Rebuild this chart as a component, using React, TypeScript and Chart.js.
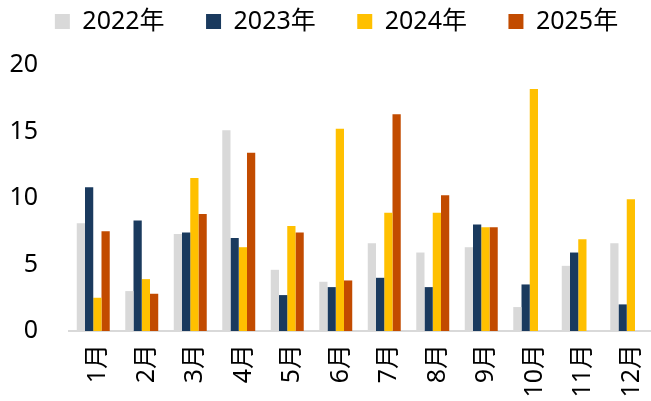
import React, { useEffect, useRef } from "react";
import { Chart, registerables } from "chart.js";

Chart.register(...registerables);

const months = ["1月", "2月", "3月", "4月", "5月", "6月", "7月", "8月", "9月", "10月", "11月", "12月"];
const seriesNames = ["2022年", "2023年", "2024年", "2025年"];
const v2022 = [8.1, 3.0, 7.3, 15.1, 4.6, 3.7, 6.6, 5.9, 6.3, 1.8, 4.9, 6.6];
const v2023 = [10.8, 8.3, 7.4, 7.0, 2.7, 3.3, 4.0, 3.3, 8.0, 3.5, 5.9, 2.0];
const v2024 = [2.5, 3.9, 11.5, 6.3, 7.9, 15.2, 8.9, 8.9, 7.8, 18.2, 6.9, 9.9];
const v2025 = [7.5, 2.8, 8.8, 13.4, 7.4, 3.8, 16.3, 10.2, 7.8, null, null, null];
const yTicks = [0, 5, 10, 15, 20];
const colors = ["#d9d9d9", "#1a3a5e", "#ffc000", "#c24b00"];

const FONT = "'Noto Sans', 'Noto Sans CJK SC', sans-serif";

export default function App() {
  const ref = useRef<HTMLCanvasElement>(null);
  useEffect(() => {
    const legendSize = {
      id: "legendSize",
      beforeInit(chart: any) {
        const orig = chart.legend.fit;
        chart.legend.fit = function () {
          orig.bind(chart.legend)();
          this.height = 65;
        };
      },
      afterLayout(chart: any) {
        chart.legend.left += 11;
        chart.legend.right += 11;
      },
    };
    const chart = new Chart(ref.current!, {
      type: "bar",
      data: {
        labels: months,
        datasets: [v2022, v2023, v2024, v2025].map((d, i) => ({
          label: seriesNames[i],
          data: d,
          backgroundColor: colors[i],
          borderWidth: 0,
          categoryPercentage: 0.68,
          barPercentage: 1.0,
        })),
      },
      options: {
        animation: false,
        responsive: false,
        layout: { padding: { left: 0, right: 0, top: 0, bottom: 0 } },
        plugins: {
          tooltip: { enabled: false },
          legend: {
            position: "top",
            align: "center",
            labels: {
              boxWidth: 15,
              boxHeight: 15,
              padding: 9,
              color: "#000",
              font: { family: FONT, size: 25 },
              generateLabels(chart: any) {
                const items = Chart.defaults.plugins.legend.labels.generateLabels(chart);
                return items.map((it: any, i: number) => ({
                  ...it,
                  text: i < items.length - 1 ? it.text + "\u00a0\u00a0\u00a0\u00a0\u00a0" : it.text,
                }));
              },
            },
          },
        },
        scales: {
          x: {
            grid: { display: false, drawTicks: false },
            border: { display: true, color: "#d9d9d9", width: 2 },
            ticks: {
              color: "#000",
              font: { family: FONT, size: 25 },
              minRotation: 90,
              maxRotation: 90,
              padding: 13,
              labelOffset: 5,
            },
            afterFit(scale: any) {
              scale.height = 70;
              scale.paddingLeft = 0;
              scale.paddingRight = 0;
            },
          },
          y: {
            min: 0,
            max: 20,
            afterBuildTicks(scale: any) {
              scale.ticks = yTicks.map((v) => ({ value: v }));
            },
            grid: { display: false, drawTicks: false },
            border: { display: false },
            ticks: {
              color: "#000",
              font: { family: FONT, size: 25 },
              padding: 31,
            },
            afterFit(scale: any) {
              scale.width = 69;
            },
          },
        },
      },
      plugins: [legendSize],
    });
    return () => chart.destroy();
  }, []);
  return (
    <div style={{ position: "absolute", left: 0, top: 0, width: 651, height: 401, background: "#fff" }}>
      <canvas ref={ref} width={651} height={401} />
    </div>
  );
}
